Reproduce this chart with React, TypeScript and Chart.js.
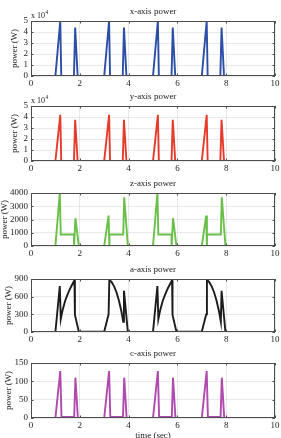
import React, { useEffect, useRef } from 'react';
import { Chart, registerables } from 'chart.js';

Chart.register(...registerables);

const SERIF = "'Liberation Serif', 'Times New Roman', serif";

// Shared time axis ticks (sec)
const timeTicks = [0, 2, 4, 6, 8, 10];

// x-axis power, in units of 10^4 W
const xAxisTime = [0, 1.0, 1.2, 1.24, 1.76, 1.81, 1.91, 3.0, 3.2, 3.24, 3.76, 3.81, 3.91, 5.0, 5.2, 5.24, 5.76, 5.81, 5.91, 7.0, 7.2, 7.24, 7.76, 7.81, 7.91, 10];
const xAxisPower = [0, 0, 5.0, 0, 0, 4.4, 0, 0, 5.0, 0, 0, 4.4, 0, 0, 5.0, 0, 0, 4.4, 0, 0, 5.0, 0, 0, 4.4, 0, 0];
const xAxisTicks = [0, 1, 2, 3, 4, 5];

// y-axis power, in units of 10^4 W
const yAxisTime = [0, 1.0, 1.2, 1.24, 1.76, 1.81, 1.91, 3.0, 3.2, 3.24, 3.76, 3.81, 3.91, 5.0, 5.2, 5.24, 5.76, 5.81, 5.91, 7.0, 7.2, 7.24, 7.76, 7.81, 7.91, 10];
const yAxisPower = [0, 0, 4.2, 0, 0, 3.75, 0, 0, 4.2, 0, 0, 3.75, 0, 0, 4.2, 0, 0, 3.75, 0, 0, 4.2, 0, 0, 3.75, 0, 0];
const yAxisTicks = [0, 1, 2, 3, 4, 5];

// z-axis power (W)
const zAxisTime = [0, 1.0, 1.18, 1.22, 1.76, 1.765, 1.82, 1.96, 3.0, 3.18, 3.21, 3.215, 3.78, 3.82, 3.97, 5.0, 5.18, 5.22, 5.76, 5.765, 5.82, 5.96, 7.0, 7.18, 7.21, 7.215, 7.78, 7.82, 7.97, 10];
const zAxisPower = [0, 0, 4000, 870, 870, 0, 2100, 0, 0, 2300, 0, 870, 870, 3680, 0, 0, 4000, 870, 870, 0, 2100, 0, 0, 2300, 0, 870, 870, 3680, 0, 0];
const zAxisTicks = [0, 1000, 2000, 3000, 4000];

// a-axis power (W)
const aAxisTime = [
  0, 1.0, 1.18, 1.22, 1.3, 1.4, 1.5, 1.6, 1.7, 1.78, 1.8, 1.96,
  3.0, 3.18, 3.21, 3.3, 3.4, 3.5, 3.6, 3.7, 3.78, 3.81, 3.97,
  5.0, 5.18, 5.22, 5.3, 5.4, 5.5, 5.6, 5.7, 5.78, 5.8, 5.96,
  7.0, 7.18, 7.21, 7.3, 7.4, 7.5, 7.6, 7.7, 7.78, 7.81, 7.97, 10,
];
const aAxisPower = [
  0, 0, 780, 220, 380, 530, 640, 735, 815, 880, 290, 6,
  6, 300, 885, 850, 780, 680, 540, 360, 175, 700, 0,
  0, 780, 220, 380, 530, 640, 735, 815, 880, 290, 6,
  6, 300, 885, 850, 780, 680, 540, 360, 175, 700, 0, 0,
];
const aAxisTicks = [0, 300, 600, 900];

// c-axis power (W)
const cAxisTime = [0, 1.0, 1.2, 1.25, 1.77, 1.82, 1.92, 3.0, 3.2, 3.25, 3.77, 3.82, 3.92, 5.0, 5.2, 5.25, 5.77, 5.82, 5.92, 7.0, 7.2, 7.25, 7.77, 7.82, 7.92, 10];
const cAxisPower = [0, 0, 128, 3, 3, 110, 0, 0, 128, 3, 3, 110, 0, 0, 128, 3, 3, 110, 0, 0, 128, 3, 3, 110, 0, 0];
const cAxisTicks = [0, 50, 100, 150];

type PanelSpec = {
  title: string;
  times: number[];
  values: number[];
  yTicks: number[];
  color: string;
  exponent?: string;
  xTitle?: string;
  plotTop: number;
  plotBottom: number;
  canvasBottom: number;
  yLabelX: number;
};

const WIDTH = 281;
const PLOT_LEFT = 31;
const PLOT_RIGHT = 275;
const PAD_TOP = 21;

const panels: PanelSpec[] = [
  { title: 'x-axis power', times: xAxisTime, values: xAxisPower, yTicks: xAxisTicks, color: '#2b4ea6', exponent: '4', plotTop: 21, plotBottom: 76, canvasBottom: 90, yLabelX: 15 },
  { title: 'y-axis power', times: yAxisTime, values: yAxisPower, yTicks: yAxisTicks, color: '#e63b2a', exponent: '4', plotTop: 106, plotBottom: 161, canvasBottom: 175, yLabelX: 15 },
  { title: 'z-axis power', times: zAxisTime, values: zAxisPower, yTicks: zAxisTicks, color: '#6abf48', plotTop: 193, plotBottom: 246, canvasBottom: 260, yLabelX: 4.5 },
  { title: 'a-axis power', times: aAxisTime, values: aAxisPower, yTicks: aAxisTicks, color: '#1c1c1c', plotTop: 279, plotBottom: 332, canvasBottom: 346, yLabelX: 9 },
  { title: 'c-axis power', times: cAxisTime, values: cAxisPower, yTicks: cAxisTicks, color: '#b04aae', xTitle: 'time (sec)', plotTop: 363, plotBottom: 418, canvasBottom: 438, yLabelX: 9 },
];

// Box, inward tick marks and the surrounding labels of each axes
const framePlugin = {
  id: 'matlabFrame',
  afterDraw(chart: any) {
    const opts = chart.options.plugins.matlabFrame;
    const { ctx, chartArea } = chart;
    const { left, right, top, bottom } = chartArea;
    const xs = chart.scales.x;
    const ys = chart.scales.y;
    ctx.save();
    ctx.strokeStyle = '#4d4d4d';
    ctx.lineWidth = 1;
    ctx.strokeRect(left + 0.5, top + 0.5, right - left - 1, bottom - top - 1);
    const tl = 2.5;
    ctx.beginPath();
    xs.ticks.forEach((t: any) => {
      const px = Math.round(xs.getPixelForValue(t.value)) + 0.5;
      ctx.moveTo(px, bottom);
      ctx.lineTo(px, bottom - tl);
      ctx.moveTo(px, top);
      ctx.lineTo(px, top + tl);
    });
    ys.ticks.forEach((t: any) => {
      const py = Math.round(ys.getPixelForValue(t.value)) + 0.5;
      ctx.moveTo(left, py);
      ctx.lineTo(left + tl, py);
      ctx.moveTo(right, py);
      ctx.lineTo(right - tl, py);
    });
    ctx.stroke();

    ctx.fillStyle = '#222';
    ctx.font = `9px ${SERIF}`;
    ctx.textAlign = 'center';
    ctx.textBaseline = 'middle';
    ctx.fillText(opts.title, (left + right) / 2, top - 9);

    if (opts.exponent) {
      ctx.textAlign = 'left';
      ctx.textBaseline = 'alphabetic';
      ctx.font = `8px ${SERIF}`;
      ctx.fillText('x 10', left, top - 3.5);
      const w = ctx.measureText('x 10').width;
      ctx.font = `5.5px ${SERIF}`;
      ctx.fillText(opts.exponent, left + w + 0.5, top - 7);
    }

    ctx.save();
    ctx.font = `9px ${SERIF}`;
    ctx.textAlign = 'center';
    ctx.textBaseline = 'middle';
    ctx.translate(opts.yLabelX, (top + bottom) / 2);
    ctx.rotate(-Math.PI / 2);
    ctx.fillText('power (W)', 0, 0);
    ctx.restore();

    if (opts.xTitle) {
      ctx.font = `9px ${SERIF}`;
      ctx.textAlign = 'center';
      ctx.textBaseline = 'middle';
      ctx.fillText(opts.xTitle, (left + right) / 2, bottom + 18);
    }
    ctx.restore();
  },
};

function Panel({ spec }: { spec: PanelSpec }) {
  const ref = useRef<HTMLCanvasElement>(null);
  const canvasTop = spec.plotTop - PAD_TOP;
  const height = spec.canvasBottom - canvasTop;
  const xAxisHeight = spec.canvasBottom - spec.plotBottom;

  useEffect(() => {
    if (!ref.current) return;
    const gridColor = 'rgba(0,0,0,0.11)';
    const tickFont = { family: SERIF, size: 9 };
    const plain = (v: any) => String(v);
    const chart = new Chart(ref.current, {
      type: 'line',
      data: {
        datasets: [
          {
            data: spec.times.map((t, i) => ({ x: t, y: spec.values[i] })),
            borderColor: spec.color,
            borderWidth: 1.9,
            pointRadius: 0,
            tension: 0,
            fill: false,
          },
        ],
      },
      options: {
        animation: false,
        responsive: false,
        maintainAspectRatio: false,
        events: [],
        layout: { padding: { top: PAD_TOP, left: 0, right: WIDTH - PLOT_RIGHT, bottom: 0 } },
        plugins: {
          legend: { display: false },
          tooltip: { enabled: false },
          matlabFrame: { title: spec.title, exponent: spec.exponent, xTitle: spec.xTitle, yLabelX: spec.yLabelX },
        } as any,
        scales: {
          x: {
            type: 'linear',
            min: 0,
            max: 10,
            afterBuildTicks: (s: any) => {
              s.ticks = timeTicks.map((v) => ({ value: v }));
            },
            afterFit: (s: any) => {
              s.height = xAxisHeight;
              s.paddingLeft = 0;
              s.paddingRight = 0;
            },
            grid: { color: gridColor, lineWidth: 0.8, drawTicks: false },
            border: { display: false },
            ticks: { font: tickFont, color: '#222', padding: 2, maxRotation: 0, autoSkip: false, callback: plain },
          },
          y: {
            type: 'linear',
            min: spec.yTicks[0],
            max: spec.yTicks[spec.yTicks.length - 1],
            afterBuildTicks: (s: any) => {
              s.ticks = spec.yTicks.map((v) => ({ value: v }));
            },
            afterFit: (s: any) => {
              s.width = PLOT_LEFT;
              s.paddingTop = 0;
              s.paddingBottom = 0;
            },
            grid: { color: gridColor, lineWidth: 0.8, drawTicks: false },
            border: { display: false },
            ticks: { font: tickFont, color: '#222', padding: 3, autoSkip: false, callback: plain },
          },
        },
      },
      plugins: [framePlugin],
    });
    return () => chart.destroy();
  }, [spec]);

  return (
    <canvas
      ref={ref}
      width={WIDTH}
      height={height}
      style={{ position: 'absolute', left: 0, top: canvasTop, width: WIDTH, height }}
    />
  );
}

export default function App() {
  return (
    <div style={{ position: 'fixed', left: 0, top: 0, width: WIDTH, height: 438, background: '#fff', overflow: 'hidden' }}>
      {panels.map((p) => (
        <Panel key={p.title} spec={p} />
      ))}
    </div>
  );
}
